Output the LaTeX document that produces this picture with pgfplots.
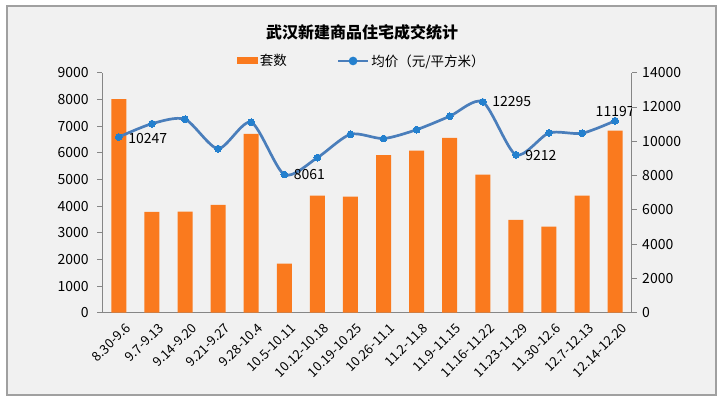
\documentclass[border=0pt]{standalone}
\usepackage{fontspec}
\setmainfont{Noto Sans CJK SC}
\usepackage{pgfplots}
\pgfplotsset{compat=1.18}
\definecolor{barc}{RGB}{250,122,30}
\definecolor{linec}{RGB}{74,126,187}
\definecolor{markc}{RGB}{36,128,206}
\definecolor{bg}{RGB}{241,241,241}
\definecolor{axc}{RGB}{134,134,134}
\definecolor{framec}{RGB}{160,160,160}
\begin{document}
\begin{tikzpicture}
\fill[white] (0pt,0pt) rectangle (724pt,402pt);
\filldraw[fill=bg, draw=framec, line width=1.2pt] (7pt,7pt) rectangle (716pt,396pt);
\node[font=\fontsize{16}{18}\selectfont\bfseries] at (362pt,370pt) {武汉新建商品住宅成交统计};
\pgfplotsset{
  myax/.style={
    at={(102.3pt,89.3pt)}, anchor=south west,
    scale only axis, width=529.4pt, height=240pt,
    xmin=-0.5, xmax=15.5, ymin=0,
    axis line style={axc, line width=0.9pt},
    tick style={axc, line width=0.9pt},
    tick align=outside,
    major tick length=5pt,
    scaled y ticks=false,
    /pgf/number format/assume math mode=true,
    /pgf/number format/set thousands separator={},
    yticklabel style={font=\fontsize{14}{16}\selectfont},
  }
}
\begin{axis}[myax,
  ymax=9000, ytick={0,1000,...,9000},
  axis y line*=left, axis x line*=bottom,
  yticklabel style={xshift=-5pt},
  xtick={0,...,15},
  xticklabels={8.30-9.6,9.7-9.13,9.14-9.20,9.21-9.27,9.28-10.4,10.5-10.11,10.12-10.18,10.19-10.25,10.26-11.1,11.2-11.8,11.9-11.15,11.16-11.22,11.23-11.29,11.30-12.6,12.7-12.13,12.14-12.20},
  xtick style={draw=none},
  minor xtick={-0.5,0.5,...,15.5},
  minor tick length=5pt,
  minor tick style={axc, line width=0.9pt},
  xticklabel style={font=\fontsize{13}{15}\selectfont, rotate=45, anchor=north east, inner sep=1pt, xshift=2pt, yshift=-6pt},
  legend columns=2,
  legend style={at={(0.49,1)}, anchor=south, yshift=1pt, draw=none, fill=none,
    font=\fontsize{13.5}{15}\selectfont, /tikz/every even column/.append style={column sep=48pt}},
]
\addplot[ybar, bar width=15pt, fill=barc, draw=none,
  legend image code/.code={\fill[barc] (0pt,-3.5pt) rectangle (21pt,3.5pt);}]
 coordinates {(0,8010) (1,3780) (2,3790) (3,4040) (4,6710) (5,1840) (6,4390) (7,4350)
   (8,5910) (9,6075) (10,6560) (11,5175) (12,3480) (13,3225) (14,4390) (15,6825)};
\addlegendentry{套数}
\addlegendimage{linec, line width=2.5pt, mark=*, mark options={fill=markc, draw=markc, mark size=3pt},
  legend image code/.code={\draw[linec, line width=2.5pt] (0pt,0pt) -- (30pt,0pt); \fill[markc] (15pt,0pt) circle (3pt);}}
\addlegendentry{均价（元/平方米）}
\end{axis}
\begin{axis}[myax,
  ymax=14000, ytick={0,2000,...,14000},
  axis y line*=right, axis x line=none,
  yticklabel style={font=\fontsize{14}{16}\selectfont, xshift=2pt},
]
\addplot[linec, line width=2.7pt, smooth, tension=0.45, mark=*,
  mark options={fill=markc, draw=markc, mark size=3.4pt, line width=0pt}]
 coordinates {(0,10247) (1,11025) (2,11283) (3,9568) (4,11108) (5,8061) (6,9043) (7,10408)
   (8,10160) (9,10677) (10,11458) (11,12295) (12,9212) (13,10484) (14,10467) (15,11197)};
\node[anchor=west, font=\fontsize{14}{16}\selectfont] at (axis cs:0,10247) [xshift=6pt, yshift=-1pt] {10247};
\node[anchor=west, font=\fontsize{14}{16}\selectfont] at (axis cs:5,8061) [xshift=6pt] {8061};
\node[anchor=west, font=\fontsize{14}{16}\selectfont] at (axis cs:11,12295) [xshift=6pt] {12295};
\node[anchor=west, font=\fontsize{14}{16}\selectfont] at (axis cs:12,9212) [xshift=6pt, yshift=-1pt] {9212};
\node[anchor=south, font=\fontsize{14}{16}\selectfont] at (axis cs:15,11197) [yshift=1pt] {11197};
\end{axis}
\end{tikzpicture}
\end{document}
